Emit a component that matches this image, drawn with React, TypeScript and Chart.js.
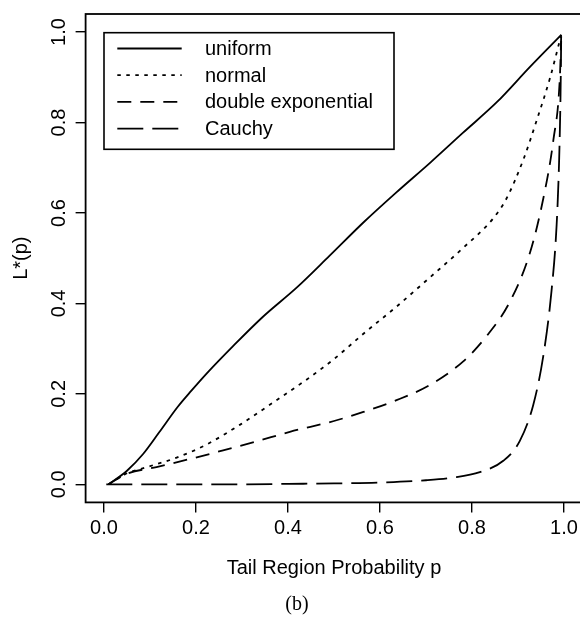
import React, { useEffect, useRef } from "react";
import { Chart, registerables } from "chart.js";

Chart.register(...registerables);

const TICKS = [0, 0.2, 0.4, 0.6, 0.8, 1.0];
const SERIES_NAMES = ["uniform", "normal", "double exponential", "Cauchy"];
const X_TITLE = "Tail Region Probability p";
const Y_TITLE = "L*(p)";
const CAPTION = "(b)";

const UNIFORM_P = [0.01, 0.05, 0.085, 0.12, 0.16, 0.19, 0.225, 0.28, 0.345, 0.42, 0.49, 0.565, 0.635, 0.71, 0.78, 0.855, 0.925, 0.994];
const UNIFORM_L = [0.0, 0.03, 0.067, 0.115, 0.171, 0.207, 0.247, 0.305, 0.37, 0.436, 0.505, 0.58, 0.645, 0.712, 0.777, 0.846, 0.922, 0.994];

const NORMAL_P = [0.01, 0.045, 0.093, 0.158, 0.223, 0.296, 0.368, 0.441, 0.5, 0.564, 0.636, 0.709, 0.781, 0.846, 0.875, 0.912, 0.941, 0.97, 0.994];
const NORMAL_L = [0.0, 0.022, 0.038, 0.059, 0.088, 0.132, 0.181, 0.232, 0.277, 0.333, 0.393, 0.458, 0.523, 0.588, 0.632, 0.719, 0.806, 0.9, 0.994];

const DEXP_P = [0.01, 0.049, 0.114, 0.187, 0.259, 0.332, 0.404, 0.5, 0.564, 0.636, 0.709, 0.781, 0.832, 0.883, 0.926, 0.955, 0.977, 0.991, 0.994];
const DEXP_L = [0.0, 0.023, 0.038, 0.056, 0.075, 0.095, 0.116, 0.14, 0.16, 0.186, 0.22, 0.272, 0.328, 0.405, 0.512, 0.632, 0.762, 0.9, 0.994];

const CAUCHY_P = [0.005, 0.1, 0.2, 0.3, 0.4, 0.5, 0.6, 0.7, 0.76, 0.817, 0.868, 0.904, 0.933, 0.955, 0.973, 0.984, 0.9895, 0.9925, 0.994];
const CAUCHY_L = [0.0, 0.0, 0.0, 0.0, 0.001, 0.002, 0.004, 0.009, 0.015, 0.027, 0.052, 0.096, 0.175, 0.284, 0.429, 0.574, 0.72, 0.864, 0.994];

const DASHES: number[][] = [[], [3.5, 5.5], [14, 9], [26, 9]];

const FONT = "'Liberation Sans', Arial, Helvetica, sans-serif";

const toPts = (p: number[], l: number[]) => p.map((x, i) => ({ x, y: l[i] }));

const boxLegendPlugin = {
  id: "boxLegend",
  afterDraw(chart: any) {
    const { ctx, chartArea } = chart;
    ctx.save();
    // plot box
    ctx.strokeStyle = "#000";
    ctx.lineWidth = 1.8;
    ctx.setLineDash([]);
    ctx.strokeRect(chartArea.left, chartArea.top, chartArea.right - chartArea.left, chartArea.bottom - chartArea.top);

    // legend
    const lx = 104, ly = 32.7, lw = 290, lh = 116.6;
    ctx.lineWidth = 1.6;
    ctx.strokeRect(lx, ly, lw, lh);
    ctx.font = `20px ${FONT}`;
    ctx.fillStyle = "#000";
    ctx.textBaseline = "middle";
    ctx.textAlign = "left";
    chart.data.datasets.forEach((ds: any, i: number) => {
      const y = ly + 15.8 + i * 26.7;
      ctx.beginPath();
      ctx.lineWidth = ds.borderWidth;
      ctx.setLineDash(ds.borderDash || []);
      ctx.moveTo(117.3, y);
      ctx.lineTo(181.7, y);
      ctx.stroke();
      ctx.fillText(ds.label, 205, y + 1);
    });
    ctx.setLineDash([]);

    // caption
    ctx.font = "20px 'Liberation Serif', 'Times New Roman', serif";
    ctx.textAlign = "center";
    ctx.fillText(CAPTION, 297, 605);
    ctx.restore();
  },
};

export default function App() {
  const ref = useRef<HTMLCanvasElement | null>(null);
  useEffect(() => {
    if (!ref.current) return;
    const ticksFn = (scale: any) => {
      scale.ticks = TICKS.map((v) => ({ value: v }));
    };
    const seriesP = [UNIFORM_P, NORMAL_P, DEXP_P, CAUCHY_P];
    const seriesL = [UNIFORM_L, NORMAL_L, DEXP_L, CAUCHY_L];
    const chart = new Chart(ref.current, {
      type: "line",
      data: {
        datasets: SERIES_NAMES.map((name, i) => ({
          label: name,
          data: toPts(seriesP[i], seriesL[i]),
          borderColor: "#000",
          borderWidth: 1.8,
          borderDash: DASHES[i],
          pointRadius: 0,
          fill: false,
          cubicInterpolationMode: "monotone" as const,
        })),
      },
      options: {
        animation: false,
        responsive: false,
        devicePixelRatio: 1,
        layout: { padding: { top: 5.6, right: 17.6, left: 0, bottom: 0 } },
        plugins: { legend: { display: false }, tooltip: { enabled: false }, title: { display: false } },
        scales: {
          x: {
            type: "linear",
            min: -0.04,
            max: 1.04,
            afterBuildTicks: ticksFn,
            afterFit: (s: any) => {
              s.height = 115.6;
            },
            border: { display: false },
            grid: { drawOnChartArea: false, drawTicks: true, tickLength: 10, color: "#000", lineWidth: 1.4 },
            ticks: {
              color: "#000",
              font: { family: FONT, size: 20 },
              padding: 4,
              autoSkip: false,
              maxRotation: 0,
              minRotation: 0,
              callback: (v: any) => Number(v).toFixed(1),
            },
            title: {
              display: true,
              text: X_TITLE,
              color: "#000",
              font: { family: FONT, size: 20 },
              padding: { top: 0, bottom: 38 },
            },
          },
          y: {
            type: "linear",
            min: -0.04,
            max: 1.04,
            afterBuildTicks: ticksFn,
            afterFit: (s: any) => {
              s.width = 85.6;
            },
            border: { display: false },
            grid: { drawOnChartArea: false, drawTicks: true, tickLength: 10, color: "#000", lineWidth: 1.4 },
            ticks: {
              color: "#000",
              font: { family: FONT, size: 20 },
              padding: 2,
              autoSkip: false,
              minRotation: 90,
              maxRotation: 90,
              crossAlign: "center",
              callback: (v: any) => Number(v).toFixed(1),
            },
            title: {
              display: true,
              text: Y_TITLE,
              color: "#000",
              font: { family: FONT, size: 20 },
              padding: { top: 9.7, bottom: 0 },
            },
          },
        },
      },
      plugins: [boxLegendPlugin],
    } as any);
    return () => chart.destroy();
  }, []);

  return (
    <div style={{ position: "absolute", left: 0, top: 0, width: 580, height: 618, overflow: "hidden", background: "#fff" }}>
      <canvas ref={ref} width={600} height={618} style={{ display: "block", width: 600, height: 618 }} />
    </div>
  );
}
